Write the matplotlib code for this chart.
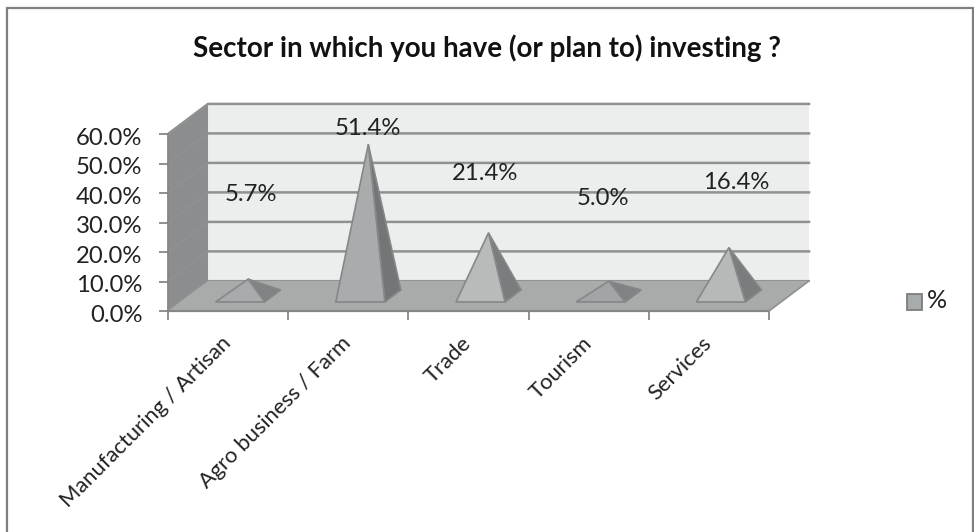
import matplotlib
matplotlib.use("Agg")
import matplotlib.pyplot as plt
from matplotlib.lines import Line2D
from matplotlib.patches import Polygon, Rectangle
from matplotlib.transforms import ScaledTranslation

categories = ["Manufacturing / Artisan", "Agro business / Farm", "Trade", "Tourism", "Services"]
values = [5.7, 51.4, 21.4, 5.0, 16.4]
y_ticks = [0, 10, 20, 30, 40, 50, 60]

# where the value labels sit, in axis units
label_heights = [39.5, 61.8, 46.5, 38.3, 43.5]
label_shift = [0.19, 0.16, 0.14, 0.12, 0.23]

face_colors = ["#a8abac", "#a9acad", "#b9bbba", "#a1a5a7", "#b7b9b8"]
side_colors = ["#7f8384", "#737577", "#7a7c7e", "#7f8385", "#7a7c7d"]

# oblique depth of the 3D box, in axis units
depth_x = 0.333
depth_y = 10.2
edge_gray = "#858788"

plt.rcParams["font.family"] = ["Lato", "DejaVu Sans"]

W, H = 974, 532
fig = plt.figure(figsize=(W / 100, H / 100), dpi=100)
fig.patch.set_facecolor("white")

# chart frame, cut off at the bottom of the image
fx = [6.5 / W, 6.5 / W, 973 / W, 973 / W]
fy = [0, 1 - 7.5 / H, 1 - 7.5 / H, 0]
fig.add_artist(Line2D(fx, fy, transform=fig.transFigure, color="#7f7f7f", linewidth=1.6,
                      solid_joinstyle="miter"))

ax = fig.add_axes([168 / W, 1 - 311 / H, 601 / W, 177 / H])
ax.set_xlim(0, 5)
ax.set_ylim(0, 60)
ax.patch.set_visible(False)
for s in ax.spines.values():
    s.set_visible(False)


def proj(x, y, d):
    # d is the depth fraction, 0 at the front and 1 on the back wall
    return (x + depth_x * d, y + depth_y * d)


def poly(points, face, edge=edge_gray, lw=1.2, z=2):
    ax.add_patch(Polygon(points, closed=True, facecolor=face, edgecolor=edge,
                         linewidth=lw, clip_on=False, zorder=z, joinstyle="miter"))


n = len(categories)

# back wall, side wall, floor
poly([proj(0, 0, 1), proj(n, 0, 1), proj(n, 60, 1), proj(0, 60, 1)], "#eceeee", edge="none", lw=0, z=1)
poly([proj(0, 0, 0), proj(0, 0, 1), proj(0, 60, 1), proj(0, 60, 0)], "#8c8d8e", edge="none", lw=0, z=1)
poly([proj(0, 0, 0), proj(n, 0, 0), proj(n, 0, 1), proj(0, 0, 1)], "#a9abab", edge="none", lw=0, z=1.5)

for t in y_ticks:
    x0, y0 = proj(0, t, 0)
    x1, y1 = proj(0, t, 1)
    x2, y2 = proj(n, t, 1)
    ax.plot([x0, x1, x2], [y0, y1, y2], color="#8f9090", lw=1.8 if t else 1.4,
            clip_on=False, zorder=1.2, solid_joinstyle="miter")

ax.plot([0, 0], [0, 60], color=edge_gray, lw=1.3, clip_on=False, zorder=1.6)
ax.plot([0, n], [0, 0], color=edge_gray, lw=1.6, clip_on=False, zorder=1.6)
ax.plot([n, n + depth_x], [0, depth_y], color="#8f9090", lw=1.2, clip_on=False, zorder=1.6)

# pyramids: base sits between 30% and 70% of the depth
half_w = 0.204
for i, v in enumerate(values):
    cx = i + 0.5
    fl = proj(cx - half_w, 0, 0.3)
    fr = proj(cx + half_w, 0, 0.3)
    br = proj(cx + half_w, 0, 0.7)
    apex = proj(cx, v, 0.5)
    poly([fr, br, apex], side_colors[i], z=3)
    poly([fl, fr, apex], face_colors[i], z=3.1)
    ax.text(cx + label_shift[i], label_heights[i], f"{v:.1f}%", ha="center", va="center",
            fontsize=17.2, color="#222222", zorder=5)

ax.set_xticks(range(n + 1))
ax.set_xticklabels([])
ax.set_yticks(y_ticks)
ax.set_yticklabels([f"{t:.1f}%" for t in y_ticks], fontsize=17.2, color="#222222")
ax.tick_params(axis="both", length=6.5, width=1.3, color=edge_gray)
ax.tick_params(axis="y", pad=12)
nudge = ScaledTranslation(0, -1.5 / 72, fig.dpi_scale_trans)
for lab in ax.get_yticklabels():
    lab.set_transform(lab.get_transform() + nudge)

for i, name in enumerate(categories):
    ax.annotate(name, xy=(i + 0.44, 0), xycoords="data", xytext=(0, -16), textcoords="offset points",
                rotation=45, rotation_mode="anchor", ha="right", va="top",
                fontsize=15.8, color="#222222", annotation_clip=False)

fig.text(487 / W, 1 - 56.5 / H, "Sector in which you have (or plan to) investing ?", ha="center", va="baseline",
         fontsize=20, fontweight="bold", color="#111111")

# legend
fig.add_artist(Rectangle((906.5 / W, 1 - 310 / H), 15.5 / W, 16.5 / H, transform=fig.transFigure,
                         facecolor="#a8abac", edgecolor="#7a7c7d", linewidth=1.3))
fig.text(927 / W, 1 - 301 / H, "%", ha="left", va="center", fontsize=18, color="#222222")

fig.savefig("out.png", dpi=100)
